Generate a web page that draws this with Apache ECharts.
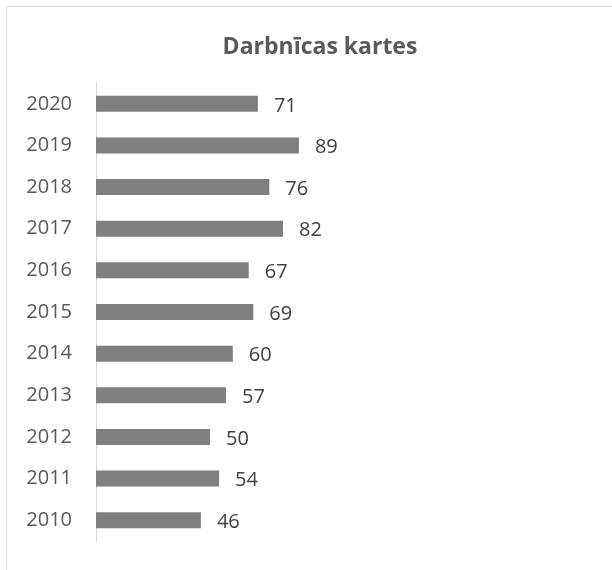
<!DOCTYPE html>
<html>
<head>
<meta charset="utf-8">
<script src="https://cdn.jsdelivr.net/npm/echarts@6/dist/echarts.min.js"></script>
<style>
  html, body { margin: 0; padding: 0; background: #fff; }
  #chart { width: 612px; height: 570px; }
</style>
</head>
<body>
<div id="chart"></div>
<script>
// years, bottom to top
var years = ['2010', '2011', '2012', '2013', '2014', '2015', '2016', '2017', '2018', '2019', '2020'];
var counts = [46, 54, 50, 57, 60, 69, 67, 82, 76, 89, 71];
var chartTitle = 'Darbnīcas kartes';

var myChart = echarts.init(document.getElementById('chart'));
myChart.setOption({
  animation: false,
  backgroundColor: '#fff',
  textStyle: { fontFamily: 'Open Sans' },
  graphic: [{
    type: 'rect',
    silent: true,
    shape: { x: 6.5, y: 6.5, width: 700, height: 700 },
    style: { fill: 'none', stroke: '#d9d9d9', lineWidth: 1 }
  }],
  title: {
    text: chartTitle,
    left: 315,
    top: 31,
    textAlign: 'center',
    textStyle: { fontFamily: 'Open Sans', fontSize: 23, fontWeight: 'bold', color: '#595959' }
  },
  grid: { left: 96, top: 83, width: 228, height: 458, containLabel: false },
  xAxis: {
    type: 'value',
    min: 0,
    max: 100,
    show: false
  },
  yAxis: {
    type: 'category',
    data: years,
    axisLine: { show: true, lineStyle: { color: '#d9d9d9', width: 1 } },
    axisTick: { show: false },
    axisLabel: { margin: 24, fontSize: 20, color: '#595959', fontFamily: 'Open Sans' },
    splitLine: { show: false }
  },
  series: [{
    type: 'bar',
    data: counts,
    barWidth: 16,
    itemStyle: { color: '#7f7f81' },
    label: {
      show: true,
      position: 'right',
      distance: 16,
      offset: [0, 2],
      fontSize: 20,
      color: '#404040',
      fontFamily: 'Open Sans'
    }
  }]
});
</script>
</body>
</html>
